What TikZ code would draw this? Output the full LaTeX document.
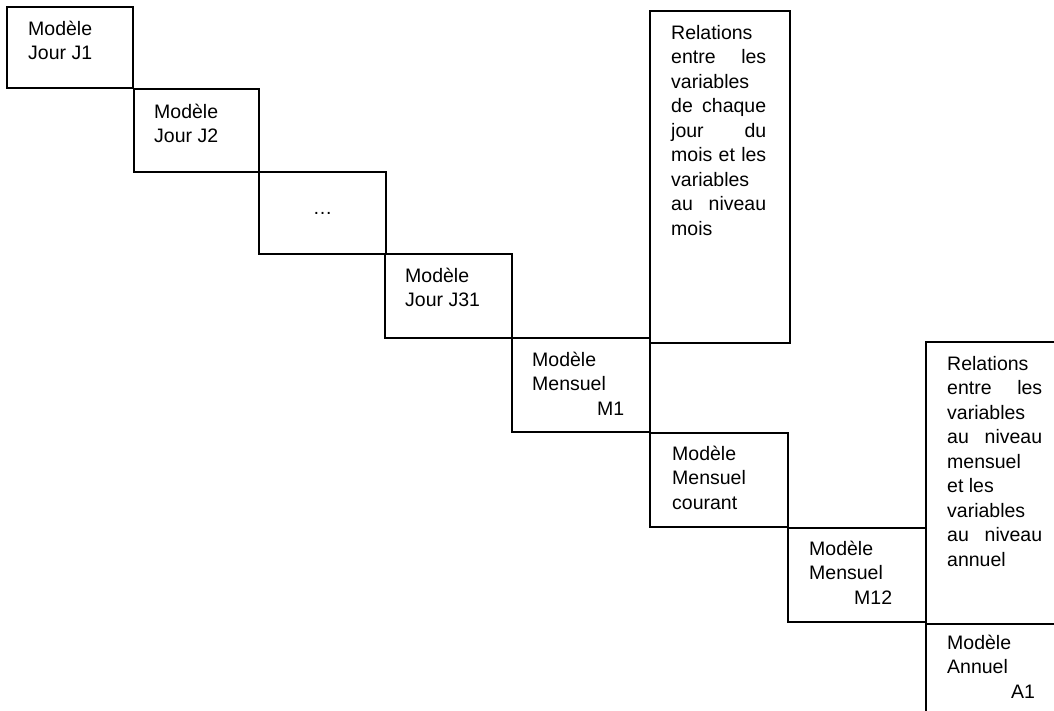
\documentclass[tikz,border=0pt]{standalone}
\usepackage{fontspec}
\setmainfont{Liberation Sans}
\newcommand{\ligne}[1]{\makebox[95pt][s]{#1}}
\begin{document}
\begin{tikzpicture}[x=1pt,y=-1pt,
    boite/.style={draw,line width=1.6pt,anchor=north west,inner sep=0pt,outer sep=0pt},
    texte/.style={anchor=north west,align=left,inner sep=0pt,font=\fontsize{19.5}{24.5}\selectfont,
        execute at begin node={\strut}}]
    \useasboundingbox (0,0) rectangle (1054,711);
    \clip (0,0) rectangle (1054,711);
    % modeles journaliers
    \node [boite,minimum width=126,minimum height=81](J1) at (7,7){};
    \node [boite,minimum width=125,minimum height=83](J2) at (134,89){};
    \node [boite,minimum width=127,minimum height=82](P) at (259,172){};
    \node [boite,minimum width=127,minimum height=84](J31) at (385,254){};
    \node [boite,minimum width=140,minimum height=332](R1) at (650,11){};
    % modeles mensuels
    \node [boite,minimum width=138,minimum height=94](M1) at (512,338){};
    \node [boite,minimum width=138,minimum height=94](MC) at (650,433){};
    \node [boite,minimum width=138,minimum height=94](M12) at (788,528){};
    \node [boite,minimum width=140,minimum height=282](R2) at (926,342){};
    % modele annuel
    \node [boite,minimum width=140,minimum height=100](A1) at (926,624){};

    \node [texte](tJ1) at ([xshift=21pt,yshift=-13.85pt]J1.north west) {Modèle\\Jour J1};
    \node [texte](tJ2) at ([xshift=20pt,yshift=-14.85pt]J2.north west) {Modèle\\Jour J2};
    \node [texte,anchor=base](tP) at ([yshift=-43pt]P.north) {…};
    \node [texte](tJ31) at ([xshift=20pt,yshift=-13.85pt]J31.north west) {Modèle\\Jour J31};
    \node [texte](tR1) at ([xshift=21pt,yshift=-13.85pt]R1.north west)
        {Relations\\\ligne{entre les}\\variables\\\ligne{de chaque}\\\ligne{jour du}\\
         \ligne{mois et les}\\variables\\\ligne{au niveau}\\mois};
    \node [texte](tM1) at ([xshift=20pt,yshift=-13.85pt]M1.north west) {Modèle\\Mensuel\\\hspace*{65pt}M1};
    \node [texte](tMC) at ([xshift=22pt,yshift=-12.85pt]MC.north west) {Modèle\\Mensuel\\courant};
    \node [texte](tM12) at ([xshift=21pt,yshift=-12.85pt]M12.north west) {Modèle\\Mensuel\\\hspace*{45pt}M12};
    \node [texte](tR2) at ([xshift=21pt,yshift=-13.85pt]R2.north west)
        {Relations\\\ligne{entre les}\\variables\\\ligne{au niveau}\\mensuel\\
         et les\\variables\\\ligne{au niveau}\\annuel};
    \node [texte](tA1) at ([xshift=21pt,yshift=-10.85pt]A1.north west) {Modèle\\Annuel\\\hspace*{64pt}A1};
\end{tikzpicture}
\end{document}
